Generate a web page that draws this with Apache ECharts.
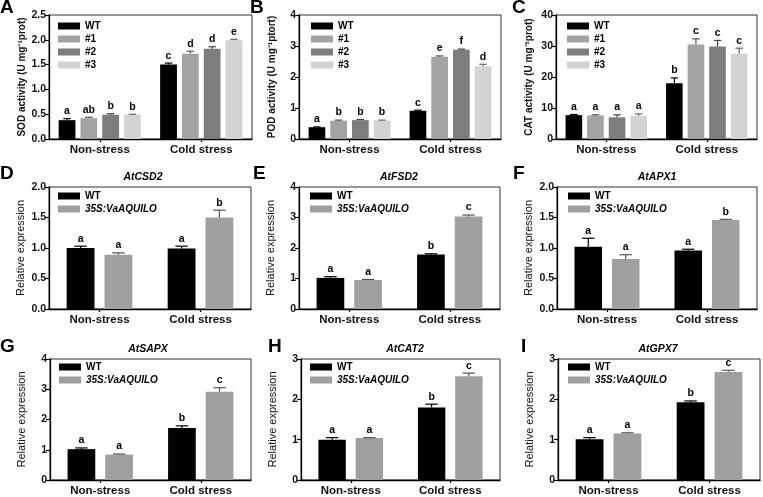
<!DOCTYPE html>
<html>
<head>
<meta charset="utf-8">
<script src="https://cdn.jsdelivr.net/npm/echarts@6/dist/echarts.min.js"></script>
<style>html,body{margin:0;padding:0;background:#fff}#c{width:763px;height:497px}</style>
</head>
<body>
<div id="c"></div>
<script>
// ---------- DATA ----------
const categories = ['Non-stress', 'Cold stress'];
const lineNames = ['WT', '#1', '#2', '#3'];
const geneNames = ['WT', '35S:VaAQUILO'];

// A: SOD activity  (rows = WT, #1, #2, #3 ; cols = Non-stress, Cold stress)
const sodMeans   = [[0.38, 1.50], [0.42, 1.72], [0.49, 1.82], [0.49, 1.99]];
const sodErrs    = [[0.03, 0.03], [0.02, 0.05], [0.02, 0.04], [0.01, 0.02]];
const sodLetters = [['a', 'c'], ['ab', 'd'], ['b', 'd'], ['b', 'e']];
const sodTicks   = ['0.0', '0.5', '1.0', '1.5', '2.0', '2.5'];

// B: POD activity
const podMeans   = [[0.38, 0.91], [0.59, 2.65], [0.61, 2.88], [0.60, 2.35]];
const podErrs    = [[0.01, 0.02], [0.02, 0.03], [0.02, 0.02], [0.01, 0.06]];
const podLetters = [['a', 'c'], ['b', 'e'], ['b', 'f'], ['b', 'd']];
const podTicks   = ['0', '1', '2', '3', '4'];

// C: CAT activity
const catMeans   = [[7.7, 18.0], [7.6, 30.5], [7.0, 29.8], [7.5, 27.5]];
const catErrs    = [[0.2, 1.7], [0.2, 1.8], [0.8, 2.0], [0.6, 1.8]];
const catLetters = [['a', 'b'], ['a', 'c'], ['a', 'c'], ['a', 'c']];
const catTicks   = ['0', '10', '20', '30', '40'];

// D: AtCSD2 (rows = WT, 35S:VaAQUILO)
const csd2Means   = [[1.00, 0.99], [0.89, 1.50]];
const csd2Errs    = [[0.03, 0.04], [0.03, 0.12]];
const csd2Letters = [['a', 'a'], ['a', 'b']];
const csd2Ticks   = ['0.0', '0.5', '1.0', '1.5', '2.0'];

// E: AtFSD2
const fsd2Means   = [[1.02, 1.79], [0.95, 3.03]];
const fsd2Errs    = [[0.04, 0.02], [0.02, 0.05]];
const fsd2Letters = [['a', 'b'], ['a', 'c']];
const fsd2Ticks   = ['0', '1', '2', '3', '4'];

// F: AtAPX1
const apx1Means   = [[1.02, 0.96], [0.82, 1.46]];
const apx1Errs    = [[0.14, 0.02], [0.07, 0.01]];
const apx1Letters = [['a', 'a'], ['a', 'b']];
const apx1Ticks   = ['0.0', '0.5', '1.0', '1.5', '2.0'];

// G: AtSAPX
const sapxMeans   = [[1.02, 1.72], [0.84, 2.92]];
const sapxErrs    = [[0.04, 0.07], [0.02, 0.13]];
const sapxLetters = [['a', 'b'], ['a', 'c']];
const sapxTicks   = ['0', '1', '2', '3', '4'];

// H: AtCAT2
const cat2Means   = [[1.00, 1.80], [1.04, 2.57]];
const cat2Errs    = [[0.05, 0.08], [0.01, 0.08]];
const cat2Letters = [['a', 'b'], ['a', 'c']];
const cat2Ticks   = ['0', '1', '2', '3'];

// I: AtGPX7
const gpx7Means   = [[1.01, 1.93], [1.15, 2.68]];
const gpx7Errs    = [[0.04, 0.03], [0.02, 0.04]];
const gpx7Letters = [['a', 'b'], ['a', 'c']];
const gpx7Ticks   = ['0', '1', '2', '3'];

// ---------- STYLE / LAYOUT ----------
const FONT = '"Liberation Sans", Arial, sans-serif';
const lineColors = ['#000000', '#a3a3a3', '#7d7d7d', '#d3d3d3'];
const lineErrColors = ['#000000', '#555555', '#444444', '#666666'];
const geneColors = ['#000000', '#a0a0a0'];
const geneErrColors = ['#000000', '#555555'];

const panels = [
  {letter:'A', lx:0,   ly:-2,  grid:{left:49, top:15, width:203, height:124}, means:sodMeans, errs:sodErrs, letters:sodLetters, ticks:sodTicks, interval:0.5,
   yname:'SOD activity (U mg\u207B\u00B9prot)', names:lineNames, legend:{left:58, top:21}},
  {letter:'B', lx:250, ly:-2,  grid:{left:299, top:15, width:202, height:124}, means:podMeans, errs:podErrs, letters:podLetters, ticks:podTicks, interval:1,
   yname:'POD activity (U mg\u207B\u00B9ptort)', names:lineNames, legend:{left:311, top:21}},
  {letter:'C', lx:512, ly:-2,  grid:{left:556, top:15, width:201, height:124}, means:catMeans, errs:catErrs, letters:catLetters, ticks:catTicks, interval:10,
   yname:'CAT activity (U mg\u207B\u00B9prot)', names:lineNames, legend:{left:567, top:21}},
  {letter:'D', lx:0,   ly:164, title:'AtCSD2', tx:143, ty:172, grid:{left:49, top:187, width:202, height:122}, means:csd2Means, errs:csd2Errs, letters:csd2Letters, ticks:csd2Ticks, interval:0.5,
   yname:'Relative expression', names:geneNames, legend:{left:58, top:191}},
  {letter:'E', lx:253, ly:164, title:'AtFSD2', tx:399, ty:172, grid:{left:299, top:187, width:201, height:122}, means:fsd2Means, errs:fsd2Errs, letters:fsd2Letters, ticks:fsd2Ticks, interval:1,
   yname:'Relative expression', names:geneNames, legend:{left:310, top:191}},
  {letter:'F', lx:513, ly:164, title:'AtAPX1', tx:657, ty:172, grid:{left:557, top:187, width:200, height:122}, means:apx1Means, errs:apx1Errs, letters:apx1Letters, ticks:apx1Ticks, interval:0.5,
   yname:'Relative expression', names:geneNames, legend:{left:568, top:191}},
  {letter:'G', lx:0,   ly:337, title:'AtSAPX', tx:148, ty:344, grid:{left:50, top:359, width:201, height:123}, means:sapxMeans, errs:sapxErrs, letters:sapxLetters, ticks:sapxTicks, interval:1,
   yname:'Relative expression', names:geneNames, legend:{left:59, top:362}},
  {letter:'H', lx:268, ly:337, title:'AtCAT2', tx:405, ty:344, grid:{left:301, top:359, width:199, height:123}, means:cat2Means, errs:cat2Errs, letters:cat2Letters, ticks:cat2Ticks, interval:1,
   yname:'Relative expression', names:geneNames, legend:{left:310, top:362}},
  {letter:'I', lx:521, ly:337, title:'AtGPX7', tx:658, ty:344, grid:{left:558, top:359, width:202, height:123}, means:gpx7Means, errs:gpx7Errs, letters:gpx7Letters, ticks:gpx7Ticks, interval:1,
   yname:'Relative expression', names:geneNames, legend:{left:568, top:362}}
];

const grids = [], xAxes = [], yAxes = [], series = [], titles = [], legends = [];

panels.forEach((p, pi) => {
  const four = p.names.length === 4;
  const colors = four ? lineColors : geneColors;
  const errColors = four ? lineErrColors : geneErrColors;
  const barGap = four ? 0.30 : 0.36;
  const catGap = four ? 0.19 : 0.35;
  const n = p.names.length;

  grids.push(Object.assign({show:true, borderColor:'#333', borderWidth:1, backgroundColor:'transparent', containLabel:false}, p.grid));

  xAxes.push({
    type:'category', gridIndex:pi, data:categories,
    axisLine:{lineStyle:{color:'#000', width:1.3}},
    axisTick:{show:true, alignWithLabel:true, length:3, lineStyle:{color:'#000', width:1.2}},
    axisLabel:{fontFamily:FONT, fontSize:11.5, fontWeight:'bold', color:'#111', margin:5}
  });

  const ticks = p.ticks, iv = p.interval;
  yAxes.push({
    type:'value', gridIndex:pi, min:0, max:iv * (ticks.length - 1), interval:iv,
    splitLine:{show:false},
    axisLine:{show:true, lineStyle:{color:'#000', width:1.3}},
    axisTick:{show:true, length:4, lineStyle:{color:'#000', width:1.2}},
    axisLabel:{fontFamily:FONT, fontSize:10.5, fontWeight:'bold', color:'#111', margin:3,
      formatter:(v) => ticks[Math.round(v / iv)]},
    name:p.yname, nameLocation:'middle', nameRotate:90, nameGap: four ? 22 : 23,
    nameTextStyle: four
      ? {fontFamily:FONT, fontSize:10, fontWeight:'bold', color:'#111'}
      : {fontFamily:FONT, fontSize:11, color:'#111'}
  });

  p.means.forEach((arr, si) => {
    series.push({
      type:'bar', name:p.names[si], xAxisIndex:pi, yAxisIndex:pi, data:arr,
      barGap:(barGap * 100) + '%', barCategoryGap:(catGap * 100) + '%',
      itemStyle:{color:colors[si]}, silent:true, animation:false
    });
  });

  const data = [];
  p.means.forEach((arr, si) => arr.forEach((v, ci) => data.push([ci, si, v, p.errs[si][ci]])));
  const letters = p.letters;
  series.push({
    type:'custom', xAxisIndex:pi, yAxisIndex:pi, z:5, silent:true, clip:false, animation:false,
    data:data,
    renderItem:(params, api) => {
      const ci = api.value(0), si = api.value(1), v = api.value(2), e = api.value(3);
      const band = api.size([1, 0])[0];
      const avail = band * (1 - catGap);
      const w = avail / (n + (n - 1) * barGap);
      const cx = api.coord([ci, 0])[0] - avail / 2 + si * w * (1 + barGap) + w / 2;
      const y0 = api.coord([ci, v])[1], y1 = api.coord([ci, v + e])[1];
      const cap = w * 0.45;
      const col = errColors[si];
      return {type:'group', children:[
        {type:'line', shape:{x1:cx, y1:y0, x2:cx, y2:y1}, style:{stroke:col, lineWidth:1.2}},
        {type:'line', shape:{x1:cx - cap / 2, y1:y1, x2:cx + cap / 2, y2:y1}, style:{stroke:col, lineWidth:1.2}},
        {type:'text', x:cx, y:y1 - 2, style:{text:letters[si][ci], align:'center', verticalAlign:'bottom',
          fontFamily:FONT, fontSize:10.5, fontWeight:'bold', fill:'#000'}}
      ]};
    }
  });

  titles.push({text:p.letter, left:p.lx, top:p.ly, padding:0,
    textStyle:{fontFamily:FONT, fontSize:19, fontWeight:'bold', color:'#000'}});
  if (p.title) {
    titles.push({text:p.title, left:p.tx, top:p.ty, textAlign:'center', padding:0,
      textStyle:{fontFamily:FONT, fontSize:10.5, fontWeight:'bold', fontStyle:'italic', color:'#000'}});
  }

  legends.push({
    data:p.names, left:p.legend.left, top:p.legend.top, orient:'vertical', icon:'rect',
    itemWidth:22, itemHeight:7, itemGap: 3, selectedMode:false, padding:0,
    textStyle:{fontFamily:FONT, fontSize:10, fontWeight:'bold', color:'#000',
      rich:{i:{fontFamily:FONT, fontSize:10, fontWeight:'bold', fontStyle:'italic', color:'#000'}}},
    formatter:(name) => name === '35S:VaAQUILO' ? '{i|' + name + '}' : name
  });
});

const chart = echarts.init(document.getElementById('c'), null, {renderer:'canvas'});
chart.setOption({
  animation:false,
  backgroundColor:'#fff',
  title:titles, legend:legends, grid:grids, xAxis:xAxes, yAxis:yAxes, series:series
});
</script>
</body>
</html>
